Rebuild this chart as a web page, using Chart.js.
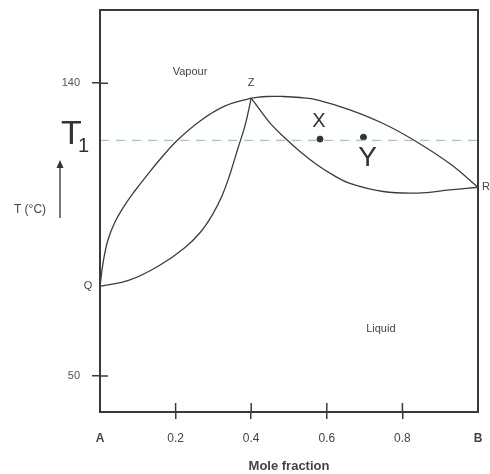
<!DOCTYPE html>
<html lang="en">

<head>
    <meta charset="UTF-8">
    <title>Diagrama T-x</title>
    <script src="https://cdn.jsdelivr.net/npm/chart.js"></script>
    <style>
        body { margin: 0; background: #fff; }
    </style>
</head>

<body>
    <canvas id="grafico" width="490" height="474"></canvas>
</body>

</html>
<script>

    // eixo x (fracao molar) e eixo y (temperatura)
    const xTicks = [0, 0.2, 0.4, 0.6, 0.8, 1];
    const xTickLabels = ['A', '0.2', '0.4', '0.6', '0.8', 'B'];
    const yTicks = [50, 140];

    // curva de vapor, lado esquerdo (Q -> Z)
    const vapourLeftX = [0, 0.008, 0.021, 0.040, 0.066, 0.093, 0.119, 0.159, 0.206, 0.265, 0.331, 0.4];
    const vapourLeftT = [77.5, 84.7, 91.8, 97.4, 102.6, 107.0, 110.9, 116.6, 122.6, 128.4, 133.0, 135.4];

    // curva de liquido, lado esquerdo (Q -> Z)
    const liquidLeftX = [0, 0.079, 0.159, 0.225, 0.265, 0.296, 0.323, 0.344, 0.365, 0.384, 0.4];
    const liquidLeftT = [77.5, 79.5, 84.1, 89.5, 94.1, 99.3, 105.4, 112.1, 120.0, 127.1, 135.4];

    // curva de vapor, lado direito (Z -> R)
    const vapourRightX = [0.4, 0.442, 0.484, 0.529, 0.574, 0.661, 0.749, 0.833, 0.926, 1];
    const vapourRightT = [135.4, 135.9, 135.9, 135.6, 134.9, 131.8, 127.6, 122.3, 115.2, 108.0];

    // curva de liquido, lado direito (Z -> R)
    const liquidRightX = [0.4, 0.423, 0.450, 0.485, 0.529, 0.574, 0.616, 0.661, 0.749, 0.839, 0.926, 1];
    const liquidRightT = [135.4, 131.8, 127.7, 123.6, 119.0, 114.9, 111.8, 109.2, 106.7, 106.2, 107.2, 108.0];

    // linha T1 e pontos X, Y
    const t1X = [0, 1];
    const t1T = [122.4, 122.4];
    const pointX = [0.582, 0.697];
    const pointT = [122.8, 123.4];
    const pointNames = ['X', 'Y'];

    // rotulos das regioes
    const regionNames = ['Vapour', 'Liquid'];
    const regionX = [0.238, 0.743];
    const regionT = [143.5, 64.4];

    function pares(xs, ys) {
        return xs.map(function (x, i) { return { x: x, y: ys[i] }; });
    }

    const FONTE = 'Liberation Sans, Arial, sans-serif';
    const COR = '#3a3a3a';

    function curva(xs, ys) {
        return {
            data: pares(xs, ys),
            showLine: true,
            pointRadius: 0,
            borderColor: '#3c3c3c',
            borderWidth: 1.3,
            tension: 0.4
        };
    }

    // desenha moldura, parte interna dos ticks e os textos
    const extras = {
        id: 'extras',
        afterDraw: function (chart) {
            const ctx = chart.ctx;
            const a = chart.chartArea;
            const sx = chart.scales.x;
            const sy = chart.scales.y;
            ctx.save();

            ctx.strokeStyle = COR;
            ctx.lineWidth = 2;
            ctx.strokeRect(a.left, a.top, a.right - a.left, a.bottom - a.top);

            ctx.lineWidth = 1.5;
            ctx.beginPath();
            for (let i = 1; i < xTicks.length - 1; i++) {
                const px = sx.getPixelForValue(xTicks[i]);
                ctx.moveTo(px, a.bottom);
                ctx.lineTo(px, a.bottom - 9);
            }
            for (let i = 0; i < yTicks.length; i++) {
                const py = sy.getPixelForValue(yTicks[i]);
                ctx.moveTo(a.left, py);
                ctx.lineTo(a.left + 8, py);
            }
            ctx.stroke();

            ctx.fillStyle = '#444';
            ctx.textAlign = 'center';
            ctx.textBaseline = 'middle';
            ctx.font = '11px ' + FONTE;
            for (let i = 0; i < regionNames.length; i++) {
                ctx.fillText(regionNames[i], sx.getPixelForValue(regionX[i]), sy.getPixelForValue(regionT[i]));
            }

            // Z, Q, R
            ctx.fillText('Z', sx.getPixelForValue(vapourLeftX[vapourLeftX.length - 1]),
                sy.getPixelForValue(vapourLeftT[vapourLeftT.length - 1]) - 15);
            ctx.fillText('Q', sx.getPixelForValue(vapourLeftX[0]) - 12, sy.getPixelForValue(vapourLeftT[0]));
            ctx.fillText('R', sx.getPixelForValue(vapourRightX[vapourRightX.length - 1]) + 8,
                sy.getPixelForValue(vapourRightT[vapourRightT.length - 1]));

            // X e Y escritos a mao
            ctx.fillStyle = '#333';
            ctx.font = '20px ' + FONTE;
            ctx.fillText(pointNames[0], sx.getPixelForValue(pointX[0]) - 1, sy.getPixelForValue(pointT[0]) - 18);
            ctx.font = '28px ' + FONTE;
            ctx.fillText(pointNames[1], sx.getPixelForValue(pointX[1]) + 4, sy.getPixelForValue(pointT[1]) + 21);

            // T1 a esquerda do eixo
            const yT1 = sy.getPixelForValue(t1T[0]);
            ctx.textAlign = 'left';
            ctx.font = '34px ' + FONTE;
            ctx.fillText('T', 61, yT1 - 6);
            ctx.font = '20px ' + FONTE;
            ctx.fillText('1', 78, yT1 + 6);

            // T (°C) e seta
            ctx.fillStyle = '#444';
            ctx.textAlign = 'center';
            ctx.font = '12px ' + FONTE;
            ctx.fillText('T (°C)', 30, 210);
            ctx.strokeStyle = '#333';
            ctx.lineWidth = 1.3;
            ctx.beginPath();
            ctx.moveTo(60, 218);
            ctx.lineTo(60, 166);
            ctx.stroke();
            ctx.fillStyle = '#333';
            ctx.beginPath();
            ctx.moveTo(60, 160);
            ctx.lineTo(56.5, 168);
            ctx.lineTo(63.5, 168);
            ctx.closePath();
            ctx.fill();

            ctx.restore();
        }
    };

    const config = {
        type: 'scatter',
        data: {
            datasets: [
                curva(vapourLeftX, vapourLeftT),
                curva(liquidLeftX, liquidLeftT),
                curva(vapourRightX, vapourRightT),
                curva(liquidRightX, liquidRightT),
                {
                    data: pares(t1X, t1T),
                    showLine: true,
                    pointRadius: 0,
                    borderColor: '#a9c2d6',
                    borderWidth: 1.2,
                    borderDash: [9, 7]
                },
                {
                    data: pares(pointX, pointT),
                    pointRadius: 3,
                    backgroundColor: '#333',
                    borderColor: '#333'
                }
            ]
        },
        options: {
            responsive: false,
            animation: false,
            devicePixelRatio: 1,
            layout: { padding: { top: 10, right: 12, left: 0, bottom: 0 } },
            plugins: {
                legend: { display: false },
                tooltip: { enabled: false }
            },
            scales: {
                x: {
                    type: 'linear',
                    min: 0,
                    max: 1,
                    afterBuildTicks: function (scale) {
                        scale.ticks = xTicks.map(function (v) { return { value: v }; });
                    },
                    afterFit: function (scale) {
                        scale.height = 62;
                        scale.paddingLeft = 0;
                        scale.paddingRight = 0;
                    },
                    border: { display: false },
                    grid: {
                        display: true,
                        drawOnChartArea: false,
                        drawTicks: true,
                        tickLength: 7,
                        lineWidth: function (c) { return (c.index === 0 || c.index === xTicks.length - 1) ? 0 : 1.5; },
                        color: COR
                    },
                    ticks: {
                        padding: 12,
                        maxRotation: 0,
                        autoSkip: false,
                        color: '#444',
                        font: function (c) {
                            const v = c.tick ? c.tick.value : null;
                            return { family: FONTE, size: 12, weight: (v === 0 || v === 1) ? 'bold' : 'normal' };
                        },
                        callback: function (value, index) { return xTickLabels[index]; }
                    },
                    title: {
                        display: true,
                        text: 'Mole fraction',
                        color: '#444',
                        font: { family: FONTE, size: 13, weight: 'bold' },
                        padding: { top: 2, bottom: 0 }
                    }
                },
                y: {
                    type: 'linear',
                    min: 38.9,
                    max: 162.5,
                    afterBuildTicks: function (scale) {
                        scale.ticks = yTicks.map(function (v) { return { value: v }; });
                    },
                    afterFit: function (scale) {
                        scale.width = 100;
                        scale.paddingTop = 0;
                        scale.paddingBottom = 0;
                    },
                    border: { display: false },
                    grid: {
                        display: true,
                        drawOnChartArea: false,
                        drawTicks: true,
                        tickLength: 8,
                        lineWidth: 1.5,
                        color: COR
                    },
                    ticks: {
                        padding: 12,
                        color: '#555',
                        font: { family: FONTE, size: 11 }
                    }
                }
            }
        },
        plugins: [extras]
    };

    let grafico = new Chart(document.getElementById('grafico'), config);

</script>
